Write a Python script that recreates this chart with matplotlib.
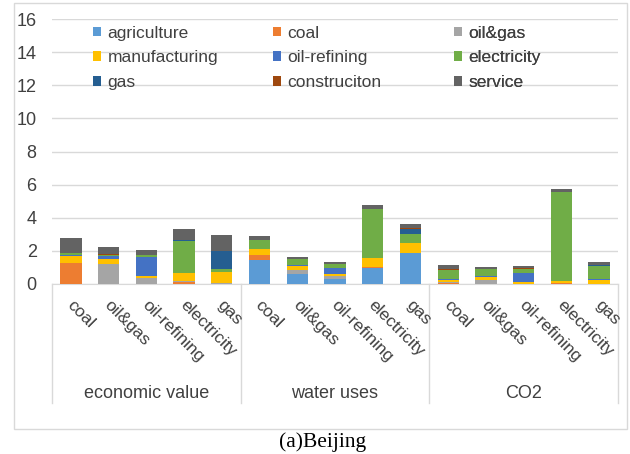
import matplotlib.pyplot as plt
from matplotlib.patches import Rectangle
import numpy as np

plt.rcParams['font.family'] = ['Liberation Sans', 'DejaVu Sans']

groups = ['economic value', 'water uses', 'CO2']
cats = ['coal', 'oil&gas', 'oil-refining', 'electricity', 'gas']

# stacked components, 15 bars each (economic value, water uses, CO2)
agriculture   = [0, 0, 0, 0, 0,           1.47, 0.60, 0.32, 0.97, 1.86,   0, 0, 0, 0, 0]
coal          = [1.25, 0, 0.03, 0.12, 0,  0.30, 0, 0, 0.08, 0,            0.08, 0, 0, 0.06, 0]
oil_gas       = [0, 1.20, 0.34, 0.04, 0.06, 0, 0.26, 0.18, 0, 0.04,       0.03, 0.24, 0, 0, 0]
manufacturing = [0.42, 0.32, 0.12, 0.48, 0.64, 0.34, 0.22, 0.10, 0.50, 0.57, 0.16, 0.16, 0.10, 0.12, 0.24]
oil_refining  = [0.08, 0.16, 1.17, 0.03, 0.03, 0.03, 0.06, 0.34, 0.02, 0.02, 0.04, 0.06, 0.55, 0.02, 0.04]
electricity   = [0.10, 0.08, 0.08, 1.93, 0.18, 0.50, 0.34, 0.24, 2.93, 0.50, 0.54, 0.42, 0.26, 5.33, 0.83]
gas           = [0.03, 0.02, 0.02, 0.06, 1.09, 0.02, 0.02, 0.02, 0.02, 0.36, 0.02, 0.02, 0.02, 0.02, 0.02]
construciton  = [0.02, 0.04, 0.02, 0.02, 0.02, 0.02, 0.02, 0.02, 0.02, 0.02, 0.02, 0.02, 0.02, 0.02, 0.02]
service       = [0.88, 0.42, 0.26, 0.64, 0.95, 0.24, 0.12, 0.10, 0.26, 0.28, 0.28, 0.12, 0.12, 0.14, 0.20]

series = [('agriculture', agriculture, '#5B9BD5'),
          ('coal', coal, '#ED7D31'),
          ('oil&gas', oil_gas, '#A5A5A5'),
          ('manufacturing', manufacturing, '#FFC000'),
          ('oil-refining', oil_refining, '#4472C4'),
          ('electricity', electricity, '#70AD47'),
          ('gas', gas, '#255E91'),
          ('construciton', construciton, '#9E480E'),
          ('service', service, '#636363')]

fig = plt.figure(figsize=(6.3, 4.54), dpi=100)
ax = fig.add_axes([52/630, 1-284/454, 566/630, 265/454])

x = np.arange(15)
bottom = np.zeros(15)
handles = {}
for name, vals, col in series:
    vals = np.array(vals)
    h = ax.bar(x, vals, 0.565, bottom=bottom, color=col, label=name, zorder=3)
    handles[name] = h
    bottom += vals

ax.set_xlim(-0.5, 14.5)
ax.set_ylim(0, 16)
ax.set_yticks(range(0, 17, 2))
ax.tick_params(axis='y', length=0, labelsize=13, labelcolor='#404040', pad=11)
ax.set_xticks([])
ax.grid(axis='y', color='#D9D9D9', linewidth=1, zorder=0)
for s in ['top', 'right', 'left']:
    ax.spines[s].set_visible(False)
ax.spines['bottom'].set_color('#D9D9D9')

# category labels
for i in range(15):
    ax.text(i + 0.09, -0.8, cats[i % 5], rotation=-45, rotation_mode='anchor',
            ha='left', va='top', fontsize=12.5, color='#404040', clip_on=False)
# group labels and separators
trans = ax.get_xaxis_transform()
for g, name in enumerate(groups):
    ax.text(g*5 + 2, -0.415, name, transform=trans, ha='center', va='center',
            fontsize=13, color='#404040')
for xs in [-0.5, 4.5, 9.5, 14.5]:
    ax.plot([xs, xs], [0, -0.45], transform=trans, color='#D9D9D9',
            linewidth=1, clip_on=False)

# legend in three columns
cols = [['agriculture', 'manufacturing', 'gas'],
        ['coal', 'oil-refining', 'construciton'],
        ['oil&gas', 'electricity', 'service']]
xpos = [84, 264, 445]
for names, xp in zip(cols, xpos):
    leg = ax.legend([handles[n] for n in names], names, loc='upper left',
                    bbox_to_anchor=(xp/630, 1-17/454), bbox_transform=fig.transFigure,
                    frameon=False, fontsize=12.5, handlelength=0.5, handleheight=0.5,
                    handletextpad=0.35, labelspacing=0.55, borderpad=0,
                    labelcolor='#404040')
    ax.add_artist(leg)

fig.patches.append(Rectangle((14/630, 1-429/454), 613/630, 426/454,
                             transform=fig.transFigure, fill=False,
                             edgecolor='#D9D9D9', linewidth=1))
fig.text(323/630, 1-442/454, '(a)Beijing', ha='center', va='center',
         fontsize=15.5, family='Liberation Serif')

plt.savefig('out.png', dpi=100)
